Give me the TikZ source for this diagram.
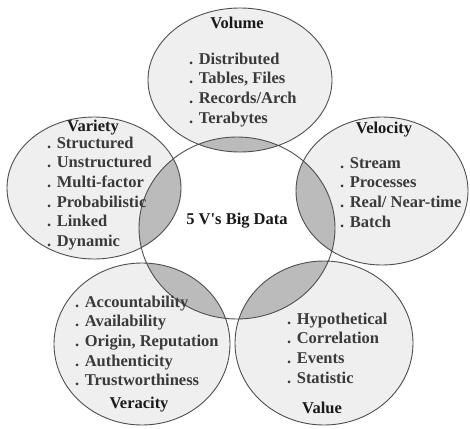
\documentclass[tikz,border=0pt]{standalone}
\usepackage{fontspec}
\setmainfont{Liberation Serif}
\definecolor{petal}{HTML}{EFEFEF}
\definecolor{lens}{HTML}{BBBBBB}
\definecolor{rim}{HTML}{4F4F4F}
\definecolor{itemtext}{HTML}{3A3A3A}
\tikzset{
  vtitle/.style={anchor=base,inner sep=0pt,text=black!90,font=\fontsize{16.5}{19.7}\selectfont\bfseries},
  vitem/.style={anchor=base west,inner sep=0pt,text=itemtext,font=\fontsize{16.5}{19.7}\selectfont\bfseries},
}
\begin{document}
\begin{tikzpicture}[x=1pt,y=-1pt]
\useasboundingbox (0,0) rectangle (470,428);
\def\rowsep{19.7}
\def\volume{(240,80) ellipse [x radius=92,y radius=72]}
\def\variety{(94,188) ellipse [x radius=87,y radius=71]}
\def\velocity{(382,191) ellipse [x radius=86,y radius=74]}
\def\veracity{(142,344) ellipse [x radius=88,y radius=81]}
\def\value{(324,343) ellipse [x radius=89,y radius=82]}
\def\core{(237,228) ellipse [x radius=98,y radius=91]}

\fill[petal] \volume \variety \velocity \veracity \value;
\fill[white] \core;
\begin{scope}
\clip \core;
\fill[lens] \volume \variety \velocity \veracity \value;
\end{scope}
\draw[rim,line width=0.9pt] \volume \variety \velocity \veracity \value \core;

\node[vtitle] (core) at (237,224) {5 V\textquotesingle s Big Data};

\node[vtitle] (vol) at (237,29) {Volume};
\foreach \t [count=\i] in {Distributed,{Tables, Files},Records/Arch,Terabytes}
  \node[vitem] (vol\i) at (189,{64+\rowsep*(\i-1)}) {. \t};

\node[vtitle] (var) at (93,131) {Variety};
\foreach \t [count=\i] in {Structured,Unstructured,Multi-factor,Probabilistic,Linked,Dynamic}
  \node[vitem] (var\i) at (47,{148+\rowsep*(\i-1)}) {. \t};

\node[vtitle] (vel) at (384,133) {Velocity};
\foreach \t [count=\i] in {Stream,Processes,Real/ Near-time,Batch}
  \node[vitem] (vel\i) at (340,{168+\rowsep*(\i-1)}) {. \t};

\node[vtitle] (ver) at (139,408) {Veracity};
\foreach \t [count=\i] in {Accountability,Availability,{Origin, Reputation},Authenticity,Trustworthiness}
  \node[vitem] (ver\i) at (75,{307+\rowsep*(\i-1)}) {. \t};

\node[vtitle] (val) at (322,413) {Value};
\foreach \t [count=\i] in {Hypothetical,Correlation,Events,Statistic}
  \node[vitem] (val\i) at (287,{324+\rowsep*(\i-1)}) {. \t};
\end{tikzpicture}
\end{document}
